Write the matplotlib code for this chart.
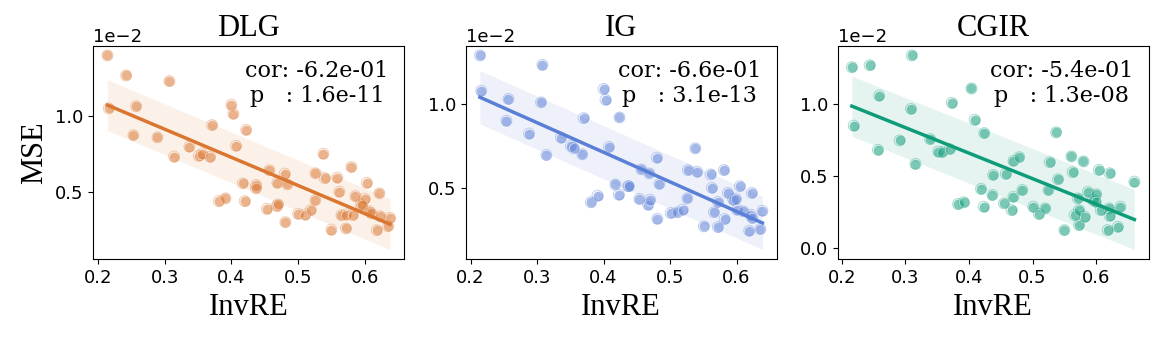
import numpy as np
import matplotlib
matplotlib.use("Agg")
import matplotlib.pyplot as plt
from matplotlib.ticker import MultipleLocator

# InvRE (x) and MSE (y, in units of 1e-2)
x_dlg = [0.214, 0.216, 0.242, 0.257, 0.253, 0.307, 0.289, 0.314, 0.337, 0.351,
         0.356, 0.368, 0.371, 0.400, 0.403, 0.407, 0.422, 0.381, 0.391, 0.417,
         0.437, 0.437, 0.420, 0.457, 0.453, 0.468, 0.470, 0.469, 0.480, 0.484,
         0.481, 0.500, 0.511, 0.519, 0.526, 0.526, 0.540, 0.538, 0.550, 0.559,
         0.562, 0.565, 0.572, 0.582, 0.572, 0.580, 0.586, 0.594, 0.600, 0.596,
         0.603, 0.607, 0.610, 0.622, 0.623, 0.618, 0.635, 0.638]
y_dlg = [1.396, 1.048, 1.264, 1.062, 0.872, 1.227, 0.857, 0.731, 0.797, 0.736,
         0.751, 0.729, 0.938, 1.073, 1.013, 0.802, 0.907, 0.438, 0.456, 0.555,
         0.544, 0.522, 0.438, 0.641, 0.388, 0.405, 0.416, 0.559, 0.619, 0.548,
         0.300, 0.355, 0.350, 0.379, 0.445, 0.621, 0.588, 0.751, 0.251, 0.593,
         0.500, 0.346, 0.350, 0.346, 0.258, 0.663, 0.471, 0.416, 0.454, 0.410,
         0.559, 0.372, 0.357, 0.489, 0.339, 0.247, 0.273, 0.328]

x_ig = [0.214, 0.216, 0.257, 0.254, 0.288, 0.308, 0.306, 0.314, 0.336, 0.351,
        0.355, 0.368, 0.370, 0.400, 0.403, 0.408, 0.424, 0.381, 0.391, 0.418,
        0.437, 0.438, 0.423, 0.457, 0.454, 0.467, 0.470, 0.469, 0.480, 0.484,
        0.481, 0.501, 0.511, 0.519, 0.526, 0.527, 0.541, 0.538, 0.551, 0.561,
        0.563, 0.566, 0.572, 0.572, 0.582, 0.581, 0.587, 0.595, 0.599, 0.601,
        0.605, 0.610, 0.621, 0.623, 0.619, 0.636, 0.639, 0.624]
y_ig = [1.292, 1.082, 1.032, 0.902, 0.826, 1.236, 1.012, 0.698, 0.802, 0.752,
        0.738, 0.702, 0.918, 1.092, 1.028, 0.746, 0.922, 0.416, 0.456, 0.522,
        0.512, 0.512, 0.462, 0.612, 0.436, 0.402, 0.432, 0.588, 0.682, 0.526,
        0.318, 0.352, 0.356, 0.372, 0.440, 0.608, 0.598, 0.738, 0.272, 0.582,
        0.502, 0.356, 0.418, 0.268, 0.316, 0.608, 0.472, 0.432, 0.438, 0.372,
        0.512, 0.362, 0.342, 0.472, 0.246, 0.256, 0.366, 0.322]

x_cgir = [0.216, 0.219, 0.244, 0.259, 0.257, 0.291, 0.310, 0.309, 0.316, 0.339,
          0.352, 0.358, 0.370, 0.373, 0.404, 0.409, 0.424, 0.383, 0.392, 0.419,
          0.438, 0.437, 0.423, 0.458, 0.455, 0.470, 0.467, 0.470, 0.479, 0.484,
          0.501, 0.510, 0.520, 0.525, 0.527, 0.537, 0.540, 0.550, 0.561, 0.563,
          0.566, 0.571, 0.573, 0.573, 0.580, 0.582, 0.587, 0.595, 0.600, 0.599,
          0.604, 0.607, 0.620, 0.621, 0.618, 0.634, 0.638, 0.660, 0.621]
y_cgir = [1.253, 0.847, 1.267, 1.056, 0.679, 0.744, 1.335, 0.963, 0.581, 0.753,
          0.667, 0.663, 0.684, 1.005, 1.105, 0.888, 0.795, 0.302, 0.314, 0.407,
          0.505, 0.365, 0.284, 0.512, 0.307, 0.353, 0.260, 0.602, 0.628, 0.400,
          0.284, 0.233, 0.272, 0.400, 0.593, 0.800, 0.474, 0.121, 0.633, 0.523,
          0.226, 0.342, 0.260, 0.156, 0.598, 0.214, 0.388, 0.330, 0.370, 0.319,
          0.540, 0.260, 0.272, 0.516, 0.121, 0.144, 0.284, 0.458, 0.221]

titles = ["DLG", "IG", "CGIR"]
cors = [-0.62, -0.66, -0.54]
pvals = [1.6e-11, 3.1e-13, 1.3e-08]
colors = ["#DA7630", "#5A7FD6", "#0E9C79"]

serif = "Liberation Serif"

fig = plt.figure(figsize=(11.62, 3.41), dpi=100)
lefts = [0.0803, 0.4008, 0.7209]
panels = [(x_dlg, y_dlg), (x_ig, y_ig), (x_cgir, y_cgir)]

for i, ((xs, ys), title, col) in enumerate(zip(panels, titles, colors)):
    ax = fig.add_axes([lefts[i], 0.2396, 0.2675, 0.6264])
    x = np.array(xs)
    y = np.array(ys) * 1e-2

    # least squares fit and residual spread band
    slope, icpt = np.polyfit(x, y, 1)
    resid = y - (slope * x + icpt)
    sd = resid.std()
    xl = np.linspace(x.min(), x.max(), 50)
    yl = slope * xl + icpt
    ax.fill_between(xl, yl - sd, yl + sd, color=col, alpha=0.1, linewidth=0)

    ax.scatter(x, y, s=58, color=col, alpha=0.55, edgecolors="white", linewidths=0.9, zorder=3)
    ax.scatter(x, y, s=62, facecolors="none", edgecolors=col, alpha=0.4, linewidths=0.6, zorder=3)
    ax.plot(xl, yl, color=col, linewidth=2.5, zorder=4)

    ax.text(0.95, 0.935, f"cor: {cors[i]:.1e}\np   : {pvals[i]:.1e}",
            transform=ax.transAxes, ha="right", va="top", multialignment="center",
            family="DejaVu Serif", fontsize=16)

    ax.set_title(title, family=serif, fontsize=22, pad=7)
    ax.set_xlabel("InvRE", family=serif, fontsize=22, labelpad=4)
    if i == 0:
        ax.set_ylabel("MSE", family=serif, fontsize=22)
    ax.xaxis.set_major_locator(MultipleLocator(0.1))
    ax.yaxis.set_major_locator(MultipleLocator(0.005))
    ax.ticklabel_format(axis="y", style="sci", scilimits=(0, 0))
    ax.tick_params(labelsize=13)
    ax.yaxis.get_offset_text().set_fontsize(13)

fig.savefig("out.png", dpi=100)
